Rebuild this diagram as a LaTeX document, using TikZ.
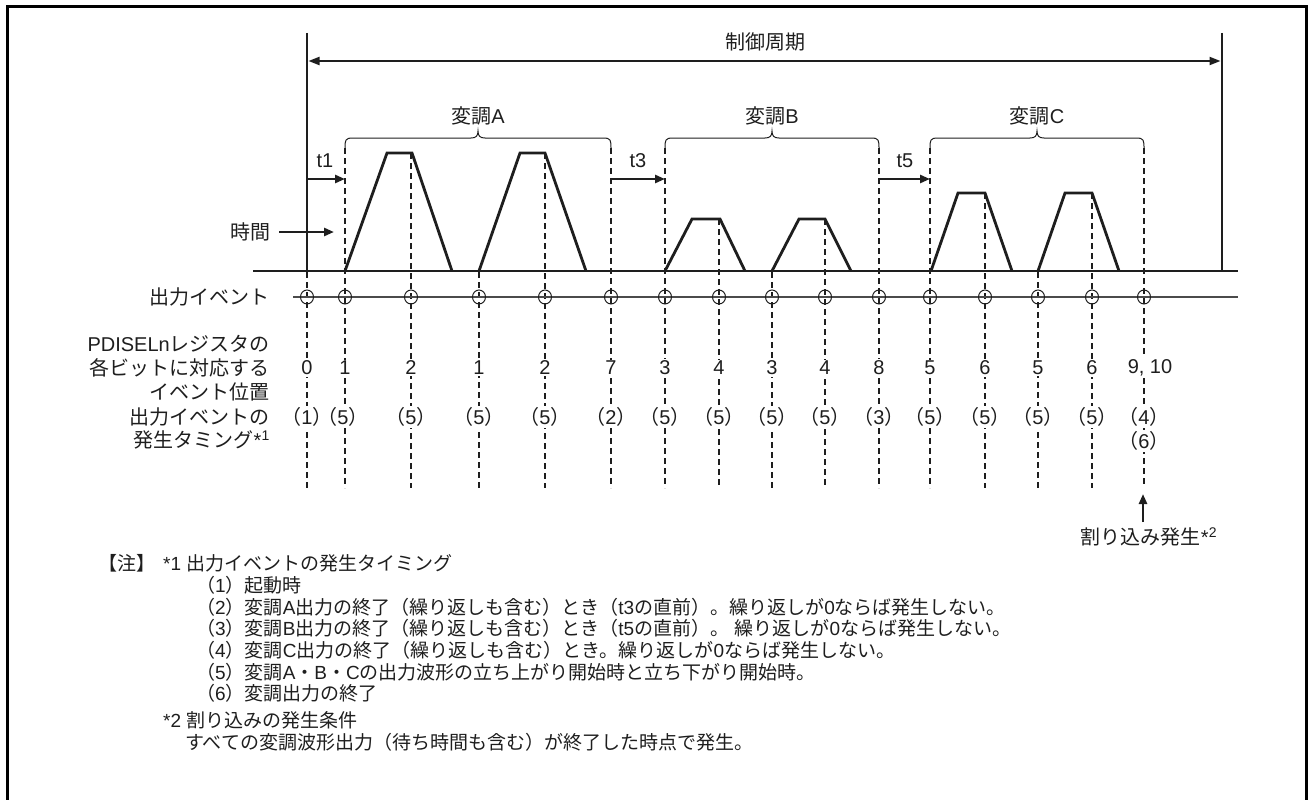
\documentclass[tikz,border=0pt]{standalone}
\usepackage{fontspec}
\setmainfont{Liberation Sans}
\newfontfamily\jpf{Noto Sans CJK JP}
\newfontfamily\latf{Liberation Sans}
\usetikzlibrary{arrows.meta}
\newXeTeXintercharclass\cjkcls
\makeatletter
\count@="3000
\loop \XeTeXcharclass\count@=\cjkcls \ifnum\count@<"30FF \advance\count@ 1 \repeat
\count@="4E00
\loop \XeTeXcharclass\count@=\cjkcls \ifnum\count@<"9FFF \advance\count@ 1 \repeat
\count@="FF00
\loop \XeTeXcharclass\count@=\cjkcls \ifnum\count@<"FFEF \advance\count@ 1 \repeat
\makeatother
\XeTeXinterchartoks 0 \cjkcls = {\jpf}
\XeTeXinterchartoks 4095 \cjkcls = {\jpf}
\XeTeXinterchartoks \cjkcls 0 = {\latf}
\XeTeXinterchartoks \cjkcls 4095 = {\latf}
\XeTeXinterchartokenstate=1
\definecolor{ink}{HTML}{1E1E1E}
\begin{document}
\begin{tikzpicture}[x=1pt,y=-1pt,
  font=\fontsize{20}{24}\selectfont, text=ink,
  wave/.style={line width=2.8pt, draw=ink, line join=miter},
  dsh/.style={draw=ink, line width=1.1pt, dash pattern=on 6pt off 4pt},
  thick/.style={draw=ink, line width=2.6pt},
  tip/.style={-{Triangle[length=10pt,width=8pt]}},
  mask/.style={fill=white, inner sep=1.5pt},
  pmask/.style={fill=white, inner ysep=1.5pt, inner xsep=-7pt},
  leftlbl/.style={anchor=east, inner sep=0pt},
  note/.style={anchor=west, inner sep=0pt, font=\fontsize{19}{23}\selectfont},
  brace/.style={draw=ink, line width=1pt}]
\useasboundingbox (0,0) rectangle (1309,800);
% frame
\draw[line width=3pt, draw=black] (7,806) -- (7,7) -- (1306,7) -- (1306,806);
% control period
\draw[thick] (307,33) -- (307,271);
\draw[thick] (1222,33) -- (1222,271);
\coordinate (pL) at (308.5,61);
\coordinate (pR) at (1220.5,61);
\draw[draw=ink, line width=2pt, {Triangle[length=11pt,width=8pt]}-{Triangle[length=11pt,width=8pt]}] (pL) -- (pR);
\node (period) at (765,42) {制御周期};
% event coordinates and dashed lines
\foreach \n/\x/\ys in {1/307/272,2/345/148,3/411/153,4/479/272,5/545/153,6/611/148,7/665/148,8/719/219,9/772/272,10/825/219,11/879/148,12/930/148,13/985/193,14/1038/272,15/1092/193}{
  \coordinate (e\n) at (\x,297);
  \draw[dsh] (\x,\ys) -- (\x,488);
}
\coordinate (e16) at (1144,297);
\draw[dsh] (1144,148) -- (1144,486);
% baseline
\draw[wave] (253,271) -- (1238,271);
% waveforms
\draw[wave] (345,271) -- (387,153) -- (412,153) -- (452,271);
\draw[wave] (479,271) -- (520,153) -- (545,153) -- (586,271);
\draw[wave] (665,271) -- (692,219) -- (720,219) -- (745,271);
\draw[wave] (772,271) -- (799,219) -- (825,219) -- (851,271);
\draw[wave] (931,271) -- (958,193) -- (985,193) -- (1012,271);
\draw[wave] (1038,271) -- (1065,193) -- (1092,193) -- (1119,271);
% braces
\foreach \a/\c/\b/\t in {345/478/611/変調A,665/772/879/変調B,930/1037/1144/変調C}{
  \draw[brace] (\a,149) .. controls (\a,140) and (\a,138) .. (\a+8,138) -- (\c-7,138)
     .. controls (\c-2,138) and (\c,136) .. (\c,131)
     .. controls (\c,136) and (\c+2,138) .. (\c+7,138) -- (\b-8,138)
     .. controls (\b,138) and (\b,140) .. (\b,149);
  \node at (\c,116) {\t};
}
% t arrows
\draw[thick, tip] (308,179) -- (345,179);
\node (t1) at (325,161) {t1};
\draw[thick, tip] (612,179) -- (665,179);
\node (t3) at (638,161) {t3};
\draw[thick, tip] (880,179) -- (930,179);
\node (t5) at (905,161) {t5};
\node[leftlbl] (jikan) at (271,232) {時間};
\coordinate (jarr) at (334,232);
\draw[thick, tip] (jikan.east) ++(8,0) -- (jarr);
% event line
\draw[draw=ink!80, line width=1.5pt] (293,297) -- (1238,297);
\foreach \n in {1,...,16}{
  \draw[draw=ink, line width=1pt] (e\n) ellipse[x radius=6.5, y radius=7];
}
% left labels
\node[leftlbl] (l1) at (270,297) {出力イベント};
\node[leftlbl] (l2) at (270,344) {PDISELnレジスタの};
\node[leftlbl] (l3) at (270,368) {各ビットに対応する};
\node[leftlbl] (l4) at (270,392) {イベント位置};
\node[leftlbl] (l5) at (270,417) {出力イベントの};
\node[leftlbl] (l6) at (270,440) {発生タミング*\textsuperscript{1}};
% bit positions
\foreach \x/\v in {307/0,345/1,411/2,479/1,545/2,611/7,665/3,719/4,772/3,825/4,879/8,930/5,985/6,1038/5,1092/6}{
  \node[mask] at (\x,368) {\v};
}
\node[mask] (b16) at (1150,368) {9, 10};
% timings
\foreach \x/\v in {307/1,343/5,411/5,479/5,545/5,611/2,665/5,719/5,772/5,825/5,879/3,930/5,985/5,1038/5,1092/5,1144/4}{
  \node[pmask] at (\x,417) {（\v）};
}
\node[pmask] (t6) at (1144,441) {（6）};
% interrupt
\node (intr) at (1149,537) {割り込み発生*\textsuperscript{2}};
\coordinate (intrtip) at (1143,494);
\draw[thick, tip] (1143,522) -- (intrtip);
% notes
\node[note] (n0) at (98,563) {【注】};
\node[note] (n1) at (163,563) {*1 出力イベントの発生タイミング};
\node[note] (n2) at (196,585) {（1）起動時};
\node[note] (n3) at (196,607) {（2）変調A出力の終了（繰り返しも含む）とき（t3の直前）。繰り返しが0ならば発生しない。};
\node[note] (n4) at (196,628) {（3）変調B出力の終了（繰り返しも含む）とき（t5の直前）。 繰り返しが0ならば発生しない。};
\node[note] (n5) at (196,650) {（4）変調C出力の終了（繰り返しも含む）とき。繰り返しが0ならば発生しない。};
\node[note] (n6) at (196,672) {（5）変調A・B・Cの出力波形の立ち上がり開始時と立ち下がり開始時。};
\node[note] (n7) at (196,693) {（6）変調出力の終了};
\node[note] (n8) at (163,720) {*2 割り込みの発生条件};
\node[note] (n9) at (185,742) {すべての変調波形出力（待ち時間も含む）が終了した時点で発生。};
\end{tikzpicture}
\end{document}
